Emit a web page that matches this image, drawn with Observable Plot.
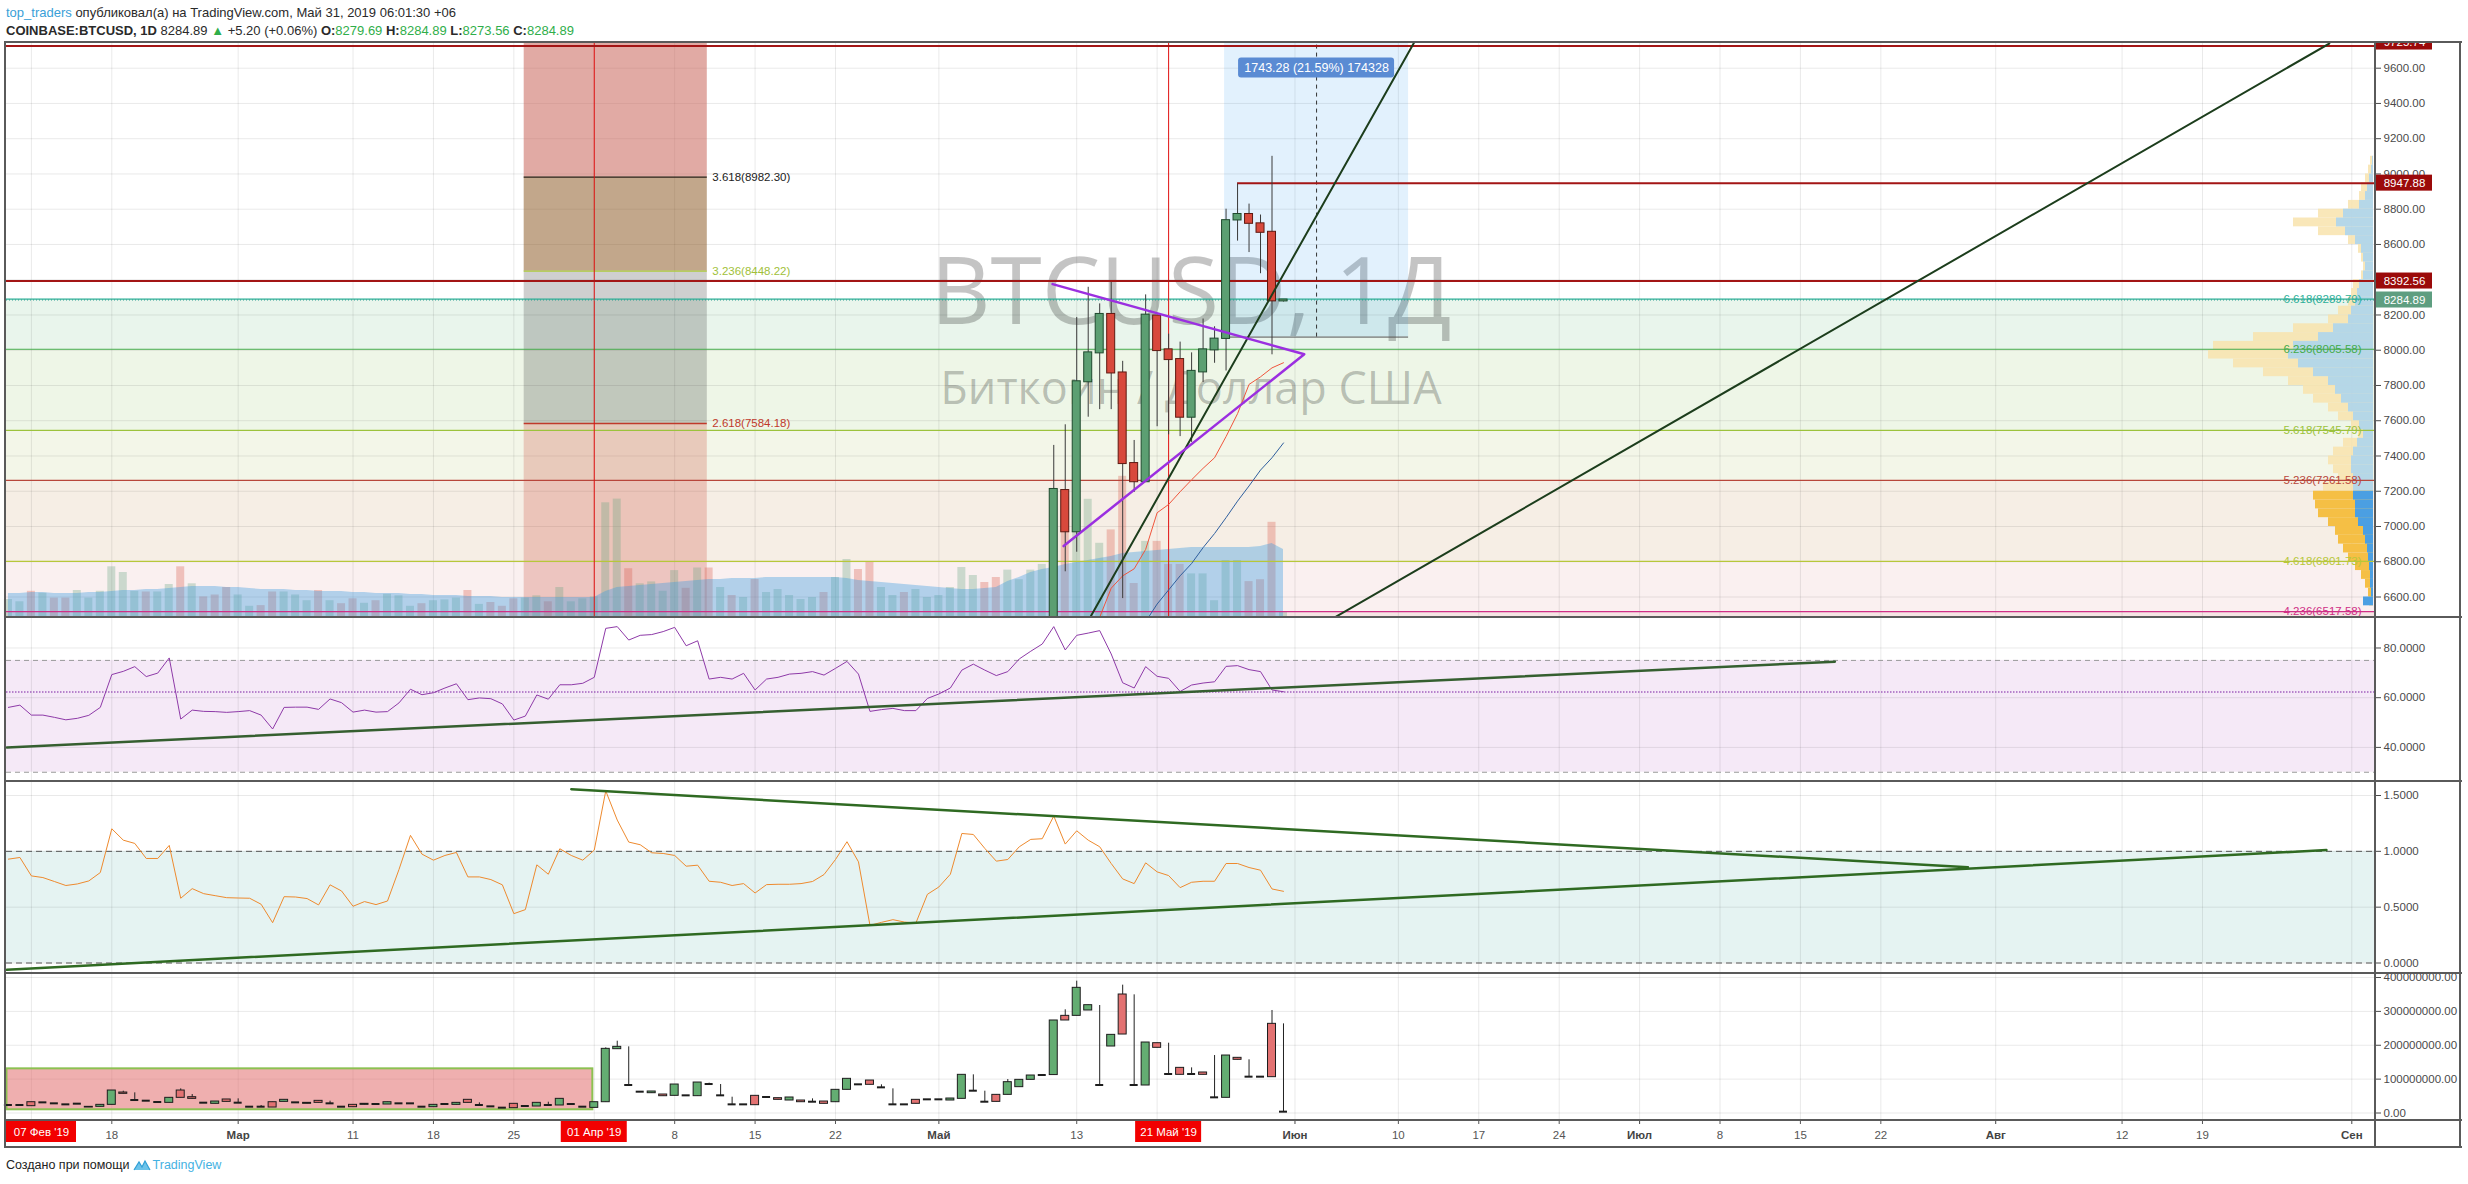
<!DOCTYPE html>
<html lang="ru">
<head>
<meta charset="utf-8">
<title>BTCUSD, 1Д</title>
<script src="https://cdn.jsdelivr.net/npm/d3@7"></script>
<script src="https://cdn.jsdelivr.net/npm/@observablehq/plot@0.6"></script>
<style>
  html, body { margin: 0; padding: 0; background: #fff; }
  #page { position: relative; width: 2468px; height: 1184px; overflow: hidden;
          font-family: "Liberation Sans", Arial, sans-serif; color: #2a2a2a; }
  .hdr { position: absolute; left: 6px; font-size: 13px; white-space: nowrap; }
  .user { color: #3aa0d8; }
  .up { color: #2fae4a; }
  .hl { position: absolute; height: 0; border-top: 2px solid #5a5a5a; }
  .vl { position: absolute; width: 0; border-left: 2px solid #5a5a5a; }
  #footer { position: absolute; left: 6px; top: 1158px; font-size: 12.5px; color: #222; white-space: nowrap; }
  #footer .tv { color: #45b1e2; }
  #footer svg { vertical-align: -3px; margin: 0 2px 0 3px; }
</style>
</head>
<body>
<div id="page">
  <div class="hdr" style="top:5px"><span class="user">top_traders</span> опубликовал(а) на TradingView.com, Май 31, 2019 06:01:30 +06</div>
  <div class="hdr" style="top:23px"><b>COINBASE:BTCUSD, 1D</b> 8284.89 <span class="up">▲</span> +5.20 (+0.06%) <b>O:</b><span class="up">8279.69</span> <b>H:</b><span class="up">8284.89</span> <b>L:</b><span class="up">8273.56</span> <b>C:</b><span class="up">8284.89</span></div>
  <div id="footer">Создано при помощи<svg width="18" height="14" viewBox="0 0 18 14"><path d="M1 12 L6 4 L9 9 L12 3 L17 12 Z" fill="#6cc3ea"/><path d="M1 12 L6 4 L9 9 L12 3 L17 12" fill="none" stroke="#2f9fd6" stroke-width="1.2"/></svg><span class="tv">TradingView</span></div>
</div>
<script>
// ---------- time axis ----------
const DAY = 864e5;
const firstBar = Date.UTC(2019, 1, 9);               // first daily bar on screen: 9 Feb 2019
const barDate = i => new Date(firstBar + i * DAY);
const xDomain = [new Date("2019-02-08T20:00Z"), new Date("2019-09-03T01:30Z")];

// tick dates and their labels; ticks sitting under a date flag carry no label
const axisTicks = [
  ["2019-02-11", ""], ["2019-02-18", "18"], ["2019-03-01", "Мар"], ["2019-03-11", "11"],
  ["2019-03-18", "18"], ["2019-03-25", "25"], ["2019-04-01", ""], ["2019-04-08", "8"],
  ["2019-04-15", "15"], ["2019-04-22", "22"], ["2019-05-01", "Май"], ["2019-05-13", "13"],
  ["2019-05-20", ""], ["2019-06-01", "Июн"], ["2019-06-10", "10"], ["2019-06-17", "17"],
  ["2019-06-24", "24"], ["2019-07-01", "Июл"], ["2019-07-08", "8"], ["2019-07-15", "15"],
  ["2019-07-22", "22"], ["2019-08-01", "Авг"], ["2019-08-12", "12"], ["2019-08-19", "19"],
  ["2019-09-01", "Сен"]
];
const monthLabels = ["Мар", "Май", "Июн", "Июл", "Авг", "Сен"];

// date flags on the time axis (vertical line markers)
const dateFlags = [
  {date: "2019-02-07", text: "07 Фев '19"},
  {date: "2019-04-01", text: "01 Апр '19"},
  {date: "2019-05-21", text: "21 Май '19"}
];

// ---------- price candles, 11–31 May 2019 ----------
const candleStart = "2019-05-11";
const priceOpen  = [6345, 7204, 6970, 7821, 7985, 8203, 7871, 7357, 7254, 8194, 8002, 7947, 7620, 7877, 8002, 8067, 8739, 8770, 8717, 8669, 8279.69];
const priceHigh  = [7460, 7577, 8186, 8357, 8263, 8385, 7937, 7488, 8314, 8200, 8091, 8046, 7985, 8177, 8133, 8800, 8943, 8829, 8767, 9100, 8284.89];
const priceLow   = [6340, 6743, 6854, 7620, 7663, 7663, 6591, 7193, 7254, 7566, 7520, 7510, 7477, 7817, 7926, 7882, 8619, 8554, 8434, 7974, 8273.56];
const priceClose = [7210, 6970, 7821, 7985, 8203, 7871, 7357, 7254, 8199, 7998, 7947, 7620, 7880, 8002, 8063, 8735, 8770, 8720, 8669, 8280, 8284.89];

// moving averages on the price pane
const maFastStart = "2019-05-15";
const maFast = [6485, 6650, 6720, 6760, 6870, 7078, 7125, 7197, 7265, 7330, 7390, 7510, 7640, 7806, 7849, 7900, 7929];
const maSlowStart = "2019-05-19";
const maSlow = [6460, 6560, 6640, 6720, 6790, 6880, 6960, 7050, 7144, 7230, 7320, 7390, 7474];

// ---------- daily series, 9 Feb – 31 May 2019 (112 bars) ----------
const rsi = [
  56.1, 57.0, 53.0, 53.0, 52.1, 51.1, 51.7, 52.9, 56.1,
  69.3, 70.6, 72.5, 68.5, 69.9, 76.0, 51.4, 55.0, 54.5, 54.4,
  54.1, 54.4, 54.8, 53.0, 47.4, 56.1, 56.2, 56.2, 55.3, 59.5,
  58.0, 54.2, 55.0, 54.2, 54.4, 57.9, 63.4, 61.2, 62.0, 63.9,
  65.6, 59.2, 59.9, 59.6, 57.5, 51.0, 52.6, 61.1, 59.4, 65.2,
  65.2, 65.8, 68.2, 87.9, 88.6, 83.2, 85.1, 85.4, 86.6, 88.3,
  80.9, 82.9, 67.5, 68.2, 67.5, 69.8, 63.1, 67.5, 68.2, 69.5,
  69.8, 70.5, 69.1, 71.8, 74.6, 69.5, 54.5, 55.2, 55.7, 54.8,
  54.8, 59.7, 61.5, 63.9, 71.1, 73.5, 71.1, 68.9, 70.5, 75.6,
  78.7, 81.6, 88.6, 79.2, 85.1, 86.0, 87.0, 77.6, 66.0, 63.9,
  72.5, 68.6, 67.8, 62.5, 65.1, 65.9, 66.4, 72.6, 72.9, 71.3,
  70.5, 63.1, 62.4
];
const oscillator = [
  0.93, 0.945, 0.78, 0.765, 0.73, 0.694, 0.708, 0.735, 0.81,
  1.202, 1.10, 1.071, 0.936, 0.936, 1.053, 0.58, 0.666, 0.621, 0.603,
  0.585, 0.582, 0.58, 0.526, 0.361, 0.594, 0.591, 0.577, 0.52, 0.70,
  0.645, 0.508, 0.55, 0.523, 0.555, 0.837, 1.143, 0.975, 0.921, 0.963,
  0.99, 0.771, 0.771, 0.747, 0.70, 0.442, 0.478, 0.879, 0.795, 1.023,
  0.963, 0.921, 1.011, 1.541, 1.28, 1.083, 1.059, 0.987, 0.981, 0.963,
  0.867, 0.876, 0.732, 0.723, 0.694, 0.711, 0.627, 0.702, 0.705, 0.705,
  0.711, 0.73, 0.792, 0.927, 1.086, 0.906, 0.337, 0.364, 0.388, 0.367,
  0.358, 0.615, 0.681, 0.795, 1.16, 1.151, 1.026, 0.912, 0.927, 1.041,
  1.107, 1.113, 1.316, 1.065, 1.184, 1.10, 1.041, 0.891, 0.753, 0.711,
  0.897, 0.816, 0.783, 0.675, 0.723, 0.732, 0.732, 0.891, 0.891, 0.855,
  0.831, 0.663, 0.642
];
// traded volume (thousand BTC) and its moving average
const volume = [
  18, 15.7, 26.2, 24.3, 19.4, 19.4, 27, 19.4, 26.2,
  50.7, 45, 26.2, 25.5, 25.5, 33, 50.7, 33.7, 20.6, 22.5,
  30, 22.5, 11.2, 11.9, 25.5, 25.5, 22.5, 16.8, 27, 16.8,
  13.8, 18.7, 14.2, 16.8, 23.2, 21.7, 11.2, 13.8, 16.8, 17.6,
  19.4, 27, 13.1, 15, 11.2, 18.7, 19.4, 21.7, 15.7, 30,
  15.7, 18.7, 20.6, 114.7, 118.4, 48.8, 33.7, 35.6, 26.2, 46.9,
  29.2, 49.5, 49.5, 30, 22, 20, 38, 25, 28, 22,
  18, 20, 25, 40, 58, 48, 55, 30, 22, 25,
  28, 20, 22, 30, 50, 42, 35, 40, 47.4, 37.8,
  47.4, 53.1, 110, 120.1, 120.1, 118.2, 74.2, 87.6, 141.2, 34,
  76.1, 76.1, 53.1, 53.1, 43.6, 43.6, 16.8, 57, 57, 35.9,
  37.8, 95.2, 5
];
const volumeMA = [
  24, 24, 25, 25, 24, 24, 24, 25, 25,
  26, 27, 27, 28, 28, 29, 30, 31, 31, 31,
  30, 30, 29, 28, 28, 28, 27, 27, 26, 26,
  26, 25, 25, 24, 24, 24, 23, 23, 22, 22,
  22, 21, 21, 21, 20, 20, 20, 20, 20, 20,
  20, 20, 20, 26, 30, 31, 32, 33, 34, 35,
  36, 37, 38, 38, 39, 39, 39, 40, 40, 40,
  40, 40, 40, 40, 39, 37, 36, 35, 34, 33,
  32, 31, 30, 29, 28, 28, 29, 30, 36, 40,
  45, 48, 50, 53, 55, 57, 59, 61, 64, 65,
  66, 67, 68, 69, 70, 70, 70, 70, 70, 70,
  71, 74, 68
];
// lower pane candles (millions): [open, high, low, close]
const volumeOHLC = [
  [22.2, 22.2, 22.2, 22.2], [22.2, 22.2, 22.2, 22.2], [31.9, 31.9, 20.2, 20.2], [30, 30, 30, 30],
  [27.1, 27.1, 27.1, 27.1], [24.1, 24.1, 24.1, 24.1], [26.1, 26.1, 26.1, 26.1], [18.2, 18.2, 16.2, 16.2],
  [18.2, 24.1, 18.2, 24.1],
  [24.1, 66.4, 24.1, 66.4], [60.5, 64.4, 56.6, 56.6], [36.9, 59.5, 36.9, 36.9], [34.9, 34.9, 34.9, 34.9],
  [31.0, 31.0, 31.0, 31.0], [30, 44.8, 30, 44.8], [66.4, 71.3, 44.8, 44.8], [46.7, 54.6, 41.8, 41.8],
  [29, 29, 29, 29], [27.1, 33.9, 27.1, 33.9],
  [39.9, 39.9, 32.9, 32.9], [29, 41.8, 29, 29], [17.2, 17.2, 17.2, 17.2], [17.2, 22.2, 17.2, 17.2],
  [31.9, 31.9, 16.2, 16.2], [32.9, 38.9, 32.9, 38.9], [30, 30, 30, 30], [30, 30, 27.1, 27.1],
  [35.9, 35.9, 30, 30], [27.1, 34.9, 27.1, 27.1],
  [17.2, 17.2, 17.2, 17.2], [24.1, 24.1, 17.2, 17.2], [24.1, 27.1, 24.1, 27.1], [25.1, 25.1, 25.1, 25.1],
  [25.1, 31.9, 25.1, 31.9], [27.1, 27.1, 27.1, 27.1], [27.1, 27.1, 27.1, 27.1], [17.2, 17.2, 17.2, 17.2],
  [17.2, 24.1, 17.2, 24.1], [25.1, 25.1, 25.1, 25.1],
  [24.1, 30, 24.1, 30], [38.9, 38.9, 30, 30], [22.2, 30, 22.2, 22.2], [18.2, 18.2, 18.2, 18.2],
  [14.3, 14.3, 14.3, 14.3], [27.1, 27.1, 14.3, 14.3], [19.2, 19.2, 19.2, 19.2], [19.2, 30, 19.2, 30],
  [22.2, 31.9, 22.2, 22.2], [22.2, 41.8, 22.2, 41.8],
  [25.1, 25.1, 25.1, 25.1], [17.2, 17.2, 17.2, 17.2], [15.2, 31.9, 15.2, 31.9], [31.9, 192.4, 31.9, 189.4],
  [188.4, 212, 188.4, 195.3], [81.2, 195.3, 81.2, 81.2], [61.5, 61.5, 61.5, 61.5], [58.5, 63.5, 58.5, 63.5],
  [54.6, 54.6, 49.6, 49.6], [50.7, 84.1, 50.7, 84.1],
  [50.7, 50.7, 50.7, 50.7], [49.7, 90, 49.7, 90], [84.1, 88.1, 84.1, 84.1], [50.7, 84.1, 50.7, 50.7],
  [24.1, 46.7, 24.1, 24.1], [24.1, 24.1, 24.1, 24.1], [50.7, 50.7, 23.1, 23.1], [45.8, 45.8, 45.8, 45.8],
  [43.8, 43.8, 38.9, 38.9], [36.9, 45.8, 36.9, 45.8],
  [36.9, 36.9, 31.9, 31.9], [31.9, 41.8, 31.9, 31.9], [33.9, 33.9, 27.1, 27.1], [31.9, 68.4, 31.9, 68.4],
  [68.4, 100.9, 68.4, 100.9], [83.2, 83.2, 83.2, 83.2], [95.9, 95.9, 83.2, 83.2], [74.3, 83.2, 74.3, 74.3],
  [24.1, 71.3, 24.1, 24.1], [24.1, 24.1, 24.1, 24.1],
  [38.9, 38.9, 27.1, 27.1], [38.9, 38.9, 38.9, 38.9], [38.9, 38.9, 38.9, 38.9], [36.9, 42.8, 36.9, 42.8],
  [41.8, 112.7, 41.8, 112.7], [64.4, 112.7, 64.4, 64.4], [31.9, 64.4, 31.9, 31.9], [53.6, 53.6, 32.9, 32.9],
  [53.6, 98.9, 53.6, 91], [76.3, 97.9, 76.3, 97.9],
  [97.9, 110.7, 97.9, 110.7], [110.7, 110.7, 110.7, 110.7], [112, 273.1, 112, 273.1], [286.8, 304.6, 273.1, 273.1],
  [286.8, 389.2, 286.8, 369.5], [302.6, 318.3, 302.6, 318.3], [81.2, 317.3, 81.2, 81.2], [196.3, 230.7, 196.3, 230.7],
  [349.8, 377.4, 231.7, 231.7], [81.2, 348.8, 81.2, 81.2],
  [81.2, 208.1, 81.2, 208.1], [206.1, 206.1, 192.4, 192.4], [113.7, 206.1, 113.7, 113.7], [133.3, 133.3, 112.7, 112.7],
  [113.7, 133.3, 113.7, 113.7], [119.6, 119.6, 112.7, 112.7], [44.8, 169.7, 44.8, 44.8], [44.8, 169.7, 44.8, 169.7],
  [162.9, 162.9, 157, 157], [105.8, 157, 105.8, 105.8],
  [105.8, 105.8, 105.8, 105.8], [263.2, 302.6, 105.8, 105.8], [2.5, 263.2, 2.5, 2.5]
];

// ---------- visible-range volume profile (bin centre, total, up volume) ----------
const profilePrice = [9075, 9025, 8975, 8925, 8875, 8825, 8775, 8725, 8675, 8625, 8575, 8525, 8475, 8425, 8375,
  8325, 8275, 8225, 8175, 8125, 8075, 8025, 7975, 7925, 7875, 7825, 7775, 7725, 7675, 7625, 7575, 7525, 7475,
  7425, 7375, 7325, 7275, 7225, 7175, 7125, 7075, 7025, 6975, 6925, 6875, 6825, 6775, 6725, 6675, 6625, 6575];
const profileTotal = [3, 5, 8, 12, 14, 25, 55, 80, 55, 25, 15, 12, 10, 12, 20,
  22, 25, 35, 45, 80, 120, 160, 165, 140, 110, 85, 70, 60, 45, 35, 22, 15, 30,
  40, 45, 40, 35, 50, 60, 58, 55, 45, 38, 35, 30, 25, 18, 12, 8, 5, 4];
const profileUp = [1, 2, 4, 6, 8, 14, 30, 37, 28, 18, 12, 10, 8, 10, 14,
  16, 18, 22, 25, 40, 55, 80, 85, 75, 60, 45, 38, 32, 25, 20, 14, 10, 16,
  20, 22, 22, 20, 20, 20, 18, 18, 15, 10, 8, 6, 5, 4, 3, 3, 2, 10];
const profileBin = 50;
const valueAreaHigh = 7200;

// ---------- drawings on the price pane ----------
const fibLevels = [
  {ratio: "4.236", price: 6517.58, color: "#d02f86"},
  {ratio: "4.618", price: 6801.73, color: "#b7c73a"},
  {ratio: "5.236", price: 7261.58, color: "#b8463b"},
  {ratio: "5.618", price: 7545.79, color: "#9cc23c"},
  {ratio: "6.236", price: 8005.58, color: "#43ab4a"},
  {ratio: "6.618", price: 8289.79, color: "#2fb09a"}
];
const fibBands = [
  {lo: 6400, hi: 6517.58, color: "#f6e4e4"},
  {lo: 6517.58, hi: 6801.73, color: "#faf0f0"},
  {lo: 6801.73, hi: 7261.58, color: "#f6eee5"},
  {lo: 7261.58, hi: 7545.79, color: "#f3f6e8"},
  {lo: 7545.79, hi: 8005.58, color: "#eef6e7"},
  {lo: 8005.58, hi: 8289.79, color: "#e9f5ec"}
];
const fibBox = {start: "2019-03-25T21:36Z", end: "2019-04-10T20:10Z"};
const fibBoxLevels = [
  {ratio: "3.618", price: 8982.30, color: "#2b2018", text: "#222"},
  {ratio: "3.236", price: 8448.22, color: "#aecb3c", text: "#9fbf3a"},
  {ratio: "2.618", price: 7584.18, color: "#c0392b", text: "#c0392b"}
];
const fibBoxZones = [
  {lo: 8982.30, hi: 9900, color: "#c8645a", opacity: 0.55},
  {lo: 8448.22, hi: 8982.30, color: "#854f17", opacity: 0.5},
  {lo: 7584.18, hi: 8448.22, color: "#232323", opacity: 0.22},
  {lo: 6400, hi: 7584.18, color: "#cf6454", opacity: 0.3}
];
const levelLines = [
  {price: 9725.74, from: null},
  {price: 8947.88, from: "2019-05-27"},
  {price: 8392.56, from: null}
];
const lastPrice = 8284.89;
const priceRange = {start: "2019-05-25T20:53Z", end: "2019-06-10T21:20Z", from: 8074.5, to: 9817.78,
                    label: "1743.28 (21.59%) 174328"};
const steepTrend = [["2019-05-14T06:00Z", 6493], ["2019-06-11T08:24Z", 9743]];
const longTrend = [["2019-06-04T09:00Z", 6481], ["2019-08-30T01:00Z", 9740]];
const triangle = [["2019-05-10T21:36Z", 8375], ["2019-06-01T19:26Z", 7977], ["2019-05-11T20:38Z", 6889]];
const verticalMarks = ["2019-04-01", "2019-05-21"];

// RSI pane drawings
const rsiBands = [30, 75];
const rsiLevel = 62.3;
const rsiTrend = [["2019-02-08T21:00Z", 40.0], ["2019-07-18T00:00Z", 74.5]];
// oscillator pane drawings
const oscTopTrend = [["2019-03-30T00:00Z", 1.556], ["2019-07-29T14:00Z", 0.858]];
const oscLowTrend = [["2019-02-08T20:40Z", -0.06], ["2019-08-29T19:00Z", 1.011]];
// lower pane box (millions)
const volBox = {start: "2019-02-08T21:00Z", end: "2019-03-31T21:00Z", lo: 9.5, hi: 130.4};

// ---------- layout ----------
const W = 2468, ML = 6, MR = 93;
const FONT = "Liberation Sans, Arial, sans-serif";
const page = document.getElementById("page");
const style = {background: "transparent", fontFamily: FONT, fontSize: "11.5px", color: "#4a4a4a", maxWidth: "none", overflow: "hidden"};
const grid = {stroke: "#000", strokeOpacity: 0.085};
const UP = "#5c9f72", UP_EDGE = "#1f4a2e", DOWN = "#d8493c", DOWN_EDGE = "#5e1a12";
const utc = s => new Date(s.length === 10 ? s + "T00:00Z" : s);
const tickDates = axisTicks.map(([d]) => utc(d));
const tickLabel = new Map(axisTicks.map(([d, l]) => [+utc(d), l]));
const monthTicks = tickDates.filter(t => monthLabels.includes(tickLabel.get(+t)));
const dayTicks = tickDates.filter(t => !monthLabels.includes(tickLabel.get(+t)));
const xEnd = xDomain[1];

function mount(svg, top) {
  svg.style.position = "absolute";
  svg.style.left = "0px";
  svg.style.top = top + "px";
  page.appendChild(svg);
}
function frameLines() {
  const H = [42, 617, 781, 973, 1120, 1147];
  for (const y of H) {
    const d = document.createElement("div");
    d.className = "hl"; d.style.left = "5px"; d.style.width = "2457px"; d.style.top = (y - 1) + "px";
    page.appendChild(d);
  }
  for (const x of [5, 2375, 2460]) {
    const d = document.createElement("div");
    d.className = "vl"; d.style.left = (x - 1) + "px"; d.style.top = "41px"; d.style.height = "1107px";
    page.appendChild(d);
  }
}

// shared data tables
const bars = rsi.map((v, i) => ({
  date: barDate(i), rsi: v, osc: oscillator[i], vol: volume[i], ma: volumeMA[i],
  up: i === 0 ? true : v >= rsi[i - 1],
  o: volumeOHLC[i][0], h: volumeOHLC[i][1], l: volumeOHLC[i][2], c: volumeOHLC[i][3]
}));
const candles = priceOpen.map((o, i) => ({
  date: new Date(utc(candleStart).getTime() + i * DAY), o, h: priceHigh[i], l: priceLow[i], c: priceClose[i]
}));
const candleUp = new Map(candles.map(c => [+c.date, c.c >= c.o]));
for (const b of bars) if (candleUp.has(+b.date)) b.up = candleUp.get(+b.date);

const priceDomain = [6483.7, 9740.1];
const priceTicks = d3.range(6600, 9601, 200);
const mainH = 574;

// ---------- price pane: background layer ----------
mount(Plot.plot({
  width: W, height: mainH, marginLeft: ML, marginRight: MR, marginTop: 0, marginBottom: 0, style,
  x: {type: "utc", domain: xDomain, axis: null},
  y: {domain: priceDomain, axis: null},
  marks: [
    ...fibBands.map(b => Plot.rect([b], {y1: "lo", y2: "hi", fill: b.color})),
    Plot.ruleY(priceTicks, grid),
    Plot.ruleX(tickDates, grid),
    ...fibBoxZones.map(z => Plot.rect([z], {x1: () => utc(fibBox.start), x2: () => utc(fibBox.end), y1: "lo", y2: "hi",
      fill: z.color, fillOpacity: z.opacity, clip: true})),
    Plot.text(["BTCUSD, 1Д"], {frameAnchor: "middle", lineAnchor: "bottom", dy: -7, fontSize: 93,
      fontFamily: "Open Sans, Liberation Sans, sans-serif", fill: "#000", fillOpacity: 0.23}),
    Plot.text(["Биткоин / Доллар США"], {frameAnchor: "middle", lineAnchor: "bottom", dy: 73, fontSize: 45,
      fontFamily: "Open Sans, Liberation Sans, sans-serif", fill: "#000", fillOpacity: 0.23})
  ]
}), 43);

// ---------- price pane: volume histogram + moving average ----------
mount(Plot.plot({
  width: W, height: mainH, marginLeft: ML, marginRight: MR, marginTop: 0, marginBottom: 0, style,
  x: {type: "utc", domain: xDomain, axis: null},
  y: {domain: [0, mainH], axis: null},
  marks: [
    Plot.rect(bars.filter(b => b.up), {x1: "date", x2: "date", y1: 0, y2: "vol", insetLeft: -4, insetRight: -4, fill: "#6ba583", fillOpacity: 0.32}),
    Plot.rect(bars.filter(b => !b.up), {x1: "date", x2: "date", y1: 0, y2: "vol", insetLeft: -4, insetRight: -4, fill: "#d75442", fillOpacity: 0.3}),
    Plot.areaY(bars, {x: "date", y: "ma", fill: "#3d9be0", fillOpacity: 0.38, curve: "linear"})
  ]
}), 43);

// ---------- price pane: volume profile ----------
const profile = profilePrice.map((p, i) => ({lo: p - profileBin / 2, hi: p + profileBin / 2, total: profileTotal[i], up: profileUp[i], va: p <= valueAreaHigh}));
mount(Plot.plot({
  width: W, height: mainH, marginLeft: ML, marginRight: MR, marginTop: 0, marginBottom: 0, style,
  x: {domain: [0, 100], range: [2373, 2273], axis: null},
  y: {domain: priceDomain, axis: null},
  marks: [
    Plot.rect(profile.filter(d => !d.va), {x1: 0, x2: "total", y1: "lo", y2: "hi", fill: "#f8e3ad", fillOpacity: 0.85}),
    Plot.rect(profile.filter(d => !d.va), {x1: 0, x2: "up", y1: "lo", y2: "hi", fill: "#a9d4f0", fillOpacity: 0.85}),
    Plot.rect(profile.filter(d => d.va), {x1: 0, x2: "total", y1: "lo", y2: "hi", fill: "#f5bf45"}),
    Plot.rect(profile.filter(d => d.va), {x1: 0, x2: "up", y1: "lo", y2: "hi", fill: "#4b9fe2"})
  ]
}), 43);

// ---------- price pane: drawings, candles, scale ----------
const line2 = pts => pts.map(([d, v]) => ({date: utc(d), v}));
const upC = candles.filter(c => c.c >= c.o), dnC = candles.filter(c => c.c < c.o);
const prMid = new Date((utc(priceRange.start).getTime() + utc(priceRange.end).getTime()) / 2);
// price tags; the topmost one sits against the pane edge and is partly hidden
const priceTags = [
  {price: 9725.74, color: "#9b0a0a", shift: -4},
  {price: 8947.88, color: "#9b0a0a", shift: 0},
  {price: 8392.56, color: "#9b0a0a", shift: 0},
  {price: lastPrice, color: "#5e9e80", shift: 0}
].map(t => ({...t, x: xEnd}));

mount(Plot.plot({
  width: W, height: mainH, marginLeft: ML, marginRight: MR, marginTop: 0, marginBottom: 0, style,
  x: {type: "utc", domain: xDomain, axis: null},
  y: {domain: priceDomain},
  marks: [
    // price range measurement
    Plot.rect([priceRange], {x1: d => utc(d.start), x2: d => utc(d.end), y1: "from", y2: "to", fill: "#2196f3", fillOpacity: 0.13, clip: true}),
    Plot.ruleY([priceRange], {y: "from", x1: d => utc(d.start), x2: d => utc(d.end), stroke: "#555", strokeWidth: 1}),
    Plot.ruleX([priceRange], {x: () => prMid, y1: "from", y2: "to", stroke: "#333", strokeDasharray: "4,4", strokeWidth: 1, clip: true}),
    // Fibonacci extension levels across the pane
    ...fibLevels.map(f => Plot.ruleY([f], {y: "price", stroke: f.color, strokeWidth: 1.2})),
    ...fibLevels.map(f => Plot.text([f], {x: () => xEnd, y: "price", text: d => `${d.ratio}(${d.price.toFixed(2)})`, dx: -92,
      textAnchor: "start", fill: f.color, fontSize: 11.5})),
    // Fibonacci box levels
    ...fibBoxLevels.map(f => Plot.ruleY([f], {y: "price", x1: () => utc(fibBox.start), x2: () => utc(fibBox.end), stroke: f.color, strokeWidth: 1.3})),
    ...fibBoxLevels.map(f => Plot.text([f], {x: () => utc(fibBox.end), y: "price", text: d => `${d.ratio}(${d.price.toFixed(2)})`, dx: 5,
      textAnchor: "start", fill: f.text, fontSize: 11.5})),
    // vertical markers
    Plot.ruleX(verticalMarks.map(utc), {stroke: "#e01010", strokeWidth: 1}),
    // horizontal levels
    ...levelLines.map(l => Plot.ruleY([l], {y: "price", x1: d => d.from ? utc(d.from) : xDomain[0], x2: () => xEnd, stroke: "#a31515", strokeWidth: 2})),
    Plot.ruleY([lastPrice], {stroke: "#2a9d8f", strokeDasharray: "1,2", strokeWidth: 1}),
    // moving averages
    Plot.line(maFast.map((v, i) => ({date: new Date(utc(maFastStart).getTime() + i * DAY), v})), {x: "date", y: "v", stroke: "#f0553c", strokeWidth: 1, clip: true}),
    Plot.line(maSlow.map((v, i) => ({date: new Date(utc(maSlowStart).getTime() + i * DAY), v})), {x: "date", y: "v", stroke: "#2f5f9e", strokeWidth: 1, clip: true}),
    // candles
    Plot.ruleX(candles, {x: "date", y1: "l", y2: "h", stroke: "#3a3a3a", strokeWidth: 1, clip: true}),
    Plot.rect(upC, {x1: "date", x2: "date", y1: "o", y2: "c", insetLeft: -4, insetRight: -4, insetTop: -0.5, insetBottom: -0.5, fill: UP, stroke: UP_EDGE, strokeWidth: 1, clip: true}),
    Plot.rect(dnC, {x1: "date", x2: "date", y1: "o", y2: "c", insetLeft: -4, insetRight: -4, insetTop: -0.5, insetBottom: -0.5, fill: DOWN, stroke: DOWN_EDGE, strokeWidth: 1, clip: true}),
    // trend lines and triangle
    Plot.line(line2(steepTrend), {x: "date", y: "v", stroke: "#1c3d1c", strokeWidth: 2, clip: true}),
    Plot.line(line2(longTrend), {x: "date", y: "v", stroke: "#1c3d1c", strokeWidth: 2, clip: true}),
    Plot.line(line2(triangle), {x: "date", y: "v", stroke: "#9b2fe0", strokeWidth: 2.5, clip: true}),
    // measurement label
    Plot.rect([priceRange], {x1: () => prMid, x2: () => prMid, insetLeft: -78, insetRight: -78, insetTop: 14.5, insetBottom: mainH - 34.5, fill: "#5a8bd3", rx: 3}),
    Plot.text([priceRange], {x: () => prMid, text: "label", frameAnchor: "top", dy: 24.5, lineAnchor: "middle", fill: "#fff", fontSize: 12.5}),
    // price scale
    Plot.axisY({anchor: "right", ticks: priceTicks, tickFormat: d => d.toFixed(2), tickSize: 5, tickPadding: 3, fontSize: 11.5, color: "#4a4a4a", label: null}),
    ...priceTags.map(t => Plot.rect([t], {x1: "x", x2: "x", y1: "price", y2: "price", insetLeft: 0, insetRight: -57,
      insetTop: -8 + t.shift, insetBottom: -8 - t.shift, fill: t.color})),
    ...priceTags.map(t => Plot.text([t], {x: "x", y: "price", text: d => d.price.toFixed(2), dx: 29, dy: t.shift, fill: "#fff", fontSize: 11.5}))
  ]
}), 43);

// ---------- RSI pane ----------
mount(Plot.plot({
  width: W, height: 164, marginLeft: ML, marginRight: MR, marginTop: 0, marginBottom: 0, style,
  x: {type: "utc", domain: xDomain, axis: null},
  y: {domain: [26.28, 92.27]},
  marks: [
    Plot.rect([rsiBands], {y1: d => d[0], y2: d => d[1], fill: "#9c27b0", fillOpacity: 0.1}),
    Plot.ruleY([40, 60, 80], grid),
    Plot.ruleX(tickDates, grid),
    Plot.ruleY(rsiBands, {stroke: "#9a9a9a", strokeDasharray: "5,4"}),
    Plot.ruleY([rsiLevel], {stroke: "#7b1fa2", strokeDasharray: "1.5,1.5", strokeWidth: 1.2}),
    Plot.line(bars, {x: "date", y: "rsi", stroke: "#8e3aa8", strokeWidth: 1}),
    Plot.line(line2(rsiTrend), {x: "date", y: "v", stroke: "#355f30", strokeWidth: 2.5}),
    Plot.axisY({anchor: "right", ticks: [40, 60, 80], tickFormat: d => d.toFixed(4), tickSize: 5, tickPadding: 3, fontSize: 11.5, color: "#4a4a4a", label: null})
  ]
}), 617);

// ---------- oscillator pane ----------
mount(Plot.plot({
  width: W, height: 192, marginLeft: ML, marginRight: MR, marginTop: 0, marginBottom: 0, style,
  x: {type: "utc", domain: xDomain, axis: null},
  y: {domain: [-0.094, 1.6254]},
  marks: [
    Plot.rect([[0, 1]], {y1: d => d[0], y2: d => d[1], fill: "#00897b", fillOpacity: 0.1}),
    Plot.ruleY([0, 0.5, 1, 1.5], grid),
    Plot.ruleX(tickDates, grid),
    Plot.ruleY([0, 1], {stroke: "#555", strokeDasharray: "6,4"}),
    Plot.line(bars, {x: "date", y: "osc", stroke: "#ee8a2e", strokeWidth: 1}),
    Plot.line(line2(oscTopTrend), {x: "date", y: "v", stroke: "#2f6a22", strokeWidth: 2.5, clip: true}),
    Plot.line(line2(oscLowTrend), {x: "date", y: "v", stroke: "#2f6a22", strokeWidth: 2.5, clip: true}),
    Plot.axisY({anchor: "right", ticks: [0, 0.5, 1, 1.5], tickFormat: d => d.toFixed(4), tickSize: 5, tickPadding: 3, fontSize: 11.5, color: "#4a4a4a", label: null})
  ]
}), 781);

// ---------- lower candle pane + time axis ----------
const vUp = bars.filter(b => b.c > b.o), vDn = bars.filter(b => b.c < b.o), vFlat = bars.filter(b => b.c === b.o);
const volH = 147, axisH = 27;
mount(Plot.plot({
  width: W, height: volH + axisH, marginLeft: ML, marginRight: MR, marginTop: 0, marginBottom: axisH,
  style: {...style, overflow: "visible"},
  x: {type: "utc", domain: xDomain},
  y: {domain: [-22.1, 411.8]},
  marks: [
    Plot.ruleY([0, 100, 200, 300, 400], grid),
    Plot.ruleX(tickDates, grid),
    Plot.rect([volBox], {x1: d => utc(d.start), x2: d => utc(d.end), y1: "lo", y2: "hi", fill: "#e06060", fillOpacity: 0.5, stroke: "#8cc152", strokeWidth: 2}),
    Plot.ruleX(bars, {x: "date", y1: "l", y2: "h", stroke: "#222", strokeWidth: 1}),
    Plot.rect(vUp, {x1: "date", x2: "date", y1: "o", y2: "c", insetLeft: -4, insetRight: -4, fill: "#64ad72", stroke: "#1d1d1d", strokeWidth: 1}),
    Plot.rect(vDn, {x1: "date", x2: "date", y1: "o", y2: "c", insetLeft: -4, insetRight: -4, fill: "#e37272", stroke: "#1d1d1d", strokeWidth: 1}),
    Plot.rect(vFlat, {x1: "date", x2: "date", y1: "o", y2: "c", insetLeft: -4, insetRight: -4, insetTop: -1, insetBottom: -1, fill: "#1d1d1d"}),
    Plot.axisY({anchor: "right", ticks: [0, 100, 200, 300, 400], tickFormat: d => (d * 1e6).toFixed(2), tickSize: 5, tickPadding: 3, fontSize: 11.5, color: "#4a4a4a", label: null}),
    Plot.axisX({ticks: dayTicks, tickFormat: t => tickLabel.get(+t), anchor: "bottom", tickSize: 4, tickPadding: 6, fontSize: 11.5, color: "#555", label: null}),
    Plot.axisX({ticks: monthTicks, tickFormat: t => tickLabel.get(+t), anchor: "bottom", tickSize: 4, tickPadding: 6, fontSize: 11.5, fontWeight: "bold", color: "#444", label: null}),
    // date flags: the first one lies left of the visible range and is pinned to the edge
    ...dateFlags.map(f => {
      const t = utc(f.date), pinned = t < xDomain[0];
      const half = f.text.length * 3.3;
      return Plot.rect([f], {x1: () => pinned ? xDomain[0] : t, x2: () => pinned ? xDomain[0] : t,
        insetLeft: pinned ? 0 : -half, insetRight: pinned ? -70 : -half, insetTop: volH + 1, insetBottom: -(axisH - 5), fill: "#f20000"});
    }),
    ...dateFlags.map(f => {
      const t = utc(f.date), pinned = t < xDomain[0];
      return Plot.text([f], {x: () => pinned ? xDomain[0] : t, text: "text", frameAnchor: "bottom", dx: pinned ? 35 : 0, dy: 12,
        lineAnchor: "middle", fill: "#fff", fontSize: 11.5});
    })
  ]
}), 973);

frameLines();
</script>
</body>
</html>
